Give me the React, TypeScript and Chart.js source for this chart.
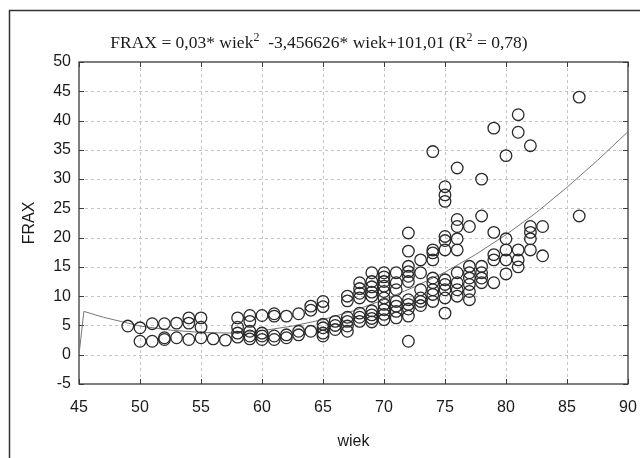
import { useEffect, useRef } from "react";
import { Chart, registerables } from "chart.js";

Chart.register(...registerables);

const X_TICKS = [45, 50, 55, 60, 65, 70, 75, 80, 85, 90];
const Y_TICKS = [-5, 0, 5, 10, 15, 20, 25, 30, 35, 40, 45, 50];

const AGES = [
  49, 50, 51, 52, 53, 54, 55, 56, 57, 58, 59, 60, 61, 62, 63, 64, 65, 66, 67,
  68, 69, 70, 71, 72, 73, 74, 75, 76, 77, 78, 79, 80, 81, 82, 83, 86,
];

const FRAX_BY_AGE: number[][] = [
  [4.9],
  [4.6, 2.3],
  [5.3, 2.3],
  [5.3, 2.9, 2.6],
  [5.4, 2.9],
  [6.3, 5.4, 2.6],
  [6.3, 4.7, 2.9],
  [2.7],
  [2.5],
  [6.3, 4.7, 3.7, 3.0],
  [6.7, 5.7, 4.0, 3.2, 2.7],
  [6.7, 3.7, 3.2, 2.6],
  [7.0, 6.6, 3.2, 2.6],
  [6.6, 3.4, 2.9],
  [7.0, 4.0, 3.4],
  [8.3, 7.6, 4.0],
  [9.1, 8.2, 5.2, 4.6, 3.7, 3.2],
  [5.7, 5.0, 4.3],
  [10.0, 9.2, 6.4, 5.7, 4.9, 4.0],
  [12.3, 11.3, 10.5, 9.7, 7.1, 6.4, 5.7],
  [14.0, 12.5, 11.6, 10.7, 10.0, 7.5, 6.8, 6.2, 5.6],
  [14.0, 13.3, 12.5, 11.7, 10.8, 9.7, 8.6, 7.7, 6.9, 6.0],
  [14.0, 12.3, 11.1, 9.1, 8.3, 7.4, 6.3],
  [20.8, 17.7, 15.1, 14.2, 13.4, 12.5, 9.4, 8.6, 7.8, 6.6, 2.3],
  [16.2, 14.0, 11.1, 9.7, 9.1, 8.4],
  [34.7, 17.9, 17.4, 16.2, 13.1, 12.3, 11.1, 10.3, 9.1],
  [28.7, 27.3, 26.2, 20.2, 19.5, 17.9, 12.8, 12.0, 11.1, 9.7, 7.1],
  [31.9, 23.1, 21.9, 19.8, 17.9, 14.0, 12.3, 11.1, 10.0],
  [21.9, 15.1, 14.0, 13.1, 12.0, 10.8, 9.4],
  [30.0, 23.7, 15.1, 14.0, 13.1, 12.3],
  [38.7, 20.9, 17.1, 16.2, 12.3],
  [34.0, 19.8, 17.9, 16.2, 13.8],
  [41.0, 38.0, 17.9, 16.2, 15.0],
  [35.7, 21.9, 20.9, 19.8, 17.9],
  [21.9, 16.9],
  [44.0, 23.7],
];

const CURVE_AGE = [
  45, 45.4, 47, 50, 52.5, 55, 57.5, 60, 62.5, 65, 67.5, 70, 72.5, 75, 77.5, 80,
  82.5, 85, 87.5, 90,
];
const CURVE_FRAX = [
  0, 7.4, 6.4, 4.9, 4.2, 3.8, 3.7, 4.1, 4.9, 6.0, 7.5, 9.4, 11.6, 14.1, 17.1,
  20.5, 24.3, 28.6, 33.2, 38.1,
];

// [text, isSuperscript]
const TITLE_PARTS: [string, boolean][] = [
  ["FRAX = 0,03* wiek", false],
  ["2", true],
  ["  -3,456626* wiek+101,01 (R", false],
  ["2", true],
  [" = 0,78)", false],
];

const X_LABEL = "wiek";
const Y_LABEL = "FRAX";

export default function App() {
  const ref = useRef<HTMLCanvasElement | null>(null);

  useEffect(() => {
    if (!ref.current) return;
    const points = AGES.flatMap((a, i) =>
      FRAX_BY_AGE[i].map((v) => ({ x: a, y: v }))
    );
    const curve = CURVE_AGE.map((a, i) => ({ x: a, y: CURVE_FRAX[i] }));

    const decor = {
      id: "decor",
      beforeDatasetsDraw(chart: any) {
        const ctx = chart.ctx as CanvasRenderingContext2D;
        const { left, right, top, bottom } = chart.chartArea;
        const xs = chart.scales.x;
        const ys = chart.scales.y;
        ctx.save();
        // dashed grid
        ctx.strokeStyle = "#c4c4c4";
        ctx.lineWidth = 1;
        ctx.setLineDash([3, 3]);
        X_TICKS.slice(1, -1).forEach((v) => {
          const px = Math.round(xs.getPixelForValue(v)) + 0.5;
          ctx.beginPath();
          ctx.moveTo(px, top);
          ctx.lineTo(px, bottom);
          ctx.stroke();
        });
        Y_TICKS.slice(1, -1).forEach((v) => {
          const py = Math.round(ys.getPixelForValue(v)) + 0.5;
          ctx.beginPath();
          ctx.moveTo(left, py);
          ctx.lineTo(right, py);
          ctx.stroke();
        });
        ctx.setLineDash([]);
        // inward ticks
        ctx.strokeStyle = "#3a3a3a";
        ctx.lineWidth = 1;
        const tl = 5;
        X_TICKS.forEach((v) => {
          const px = Math.round(xs.getPixelForValue(v)) + 0.5;
          ctx.beginPath();
          ctx.moveTo(px, bottom);
          ctx.lineTo(px, bottom - tl);
          ctx.moveTo(px, top);
          ctx.lineTo(px, top + tl);
          ctx.stroke();
        });
        Y_TICKS.forEach((v) => {
          const py = Math.round(ys.getPixelForValue(v)) + 0.5;
          ctx.beginPath();
          ctx.moveTo(left, py);
          ctx.lineTo(left + tl, py);
          ctx.moveTo(right, py);
          ctx.lineTo(right - tl, py);
          ctx.stroke();
        });
        // plot border
        ctx.strokeStyle = "#3a3a3a";
        ctx.lineWidth = 1.3;
        ctx.strokeRect(left, top, right - left, bottom - top);
        ctx.restore();
      },
      afterDraw(chart: any) {
        const ctx = chart.ctx as CanvasRenderingContext2D;
        ctx.save();
        // outer frame (left and top edges)
        ctx.strokeStyle = "#333";
        ctx.lineWidth = 1.5;
        ctx.beginPath();
        ctx.moveTo(9.5, 458);
        ctx.lineTo(9.5, 10.5);
        ctx.lineTo(640, 10.5);
        ctx.stroke();
        // title with superscripts
        const mainFont = '17.5px "Liberation Serif", "Times New Roman", serif';
        const supFont = '12px "Liberation Serif", "Times New Roman", serif';
        let total = 0;
        const widths = TITLE_PARTS.map(([t, sup]) => {
          ctx.font = sup ? supFont : mainFont;
          const w = ctx.measureText(t).width;
          total += w;
          return w;
        });
        let x = 319 - total / 2;
        const baseY = 48;
        ctx.fillStyle = "#1a1a1a";
        ctx.textBaseline = "alphabetic";
        ctx.textAlign = "left";
        TITLE_PARTS.forEach(([t, sup], i) => {
          ctx.font = sup ? supFont : mainFont;
          ctx.fillText(t, x, sup ? baseY - 7 : baseY);
          x += widths[i];
        });
        ctx.restore();
      },
    };

    const tickFont = { family: '"Liberation Sans", Arial, sans-serif', size: 16 };

    const chart = new Chart(ref.current, {
      type: "scatter",
      data: {
        datasets: [
          {
            type: "line",
            data: curve,
            borderColor: "#777",
            borderWidth: 1,
            pointRadius: 0,
            fill: false,
            tension: 0,
            order: 2,
          } as any,
          {
            data: points,
            pointStyle: "circle",
            pointRadius: 5.8,
            pointBorderWidth: 1.3,
            pointBorderColor: "#2a2a2a",
            pointBackgroundColor: "rgba(0,0,0,0)",
            borderColor: "#2a2a2a",
            backgroundColor: "rgba(0,0,0,0)",
            order: 1,
          } as any,
        ],
      },
      options: {
        animation: false,
        responsive: false,
        devicePixelRatio: 1,
        layout: { padding: { left: 0, right: 12, top: 62, bottom: 0 } },
        plugins: {
          legend: { display: false },
          tooltip: { enabled: false },
          title: { display: false },
        },
        scales: {
          x: {
            type: "linear",
            min: 45,
            max: 90,
            afterBuildTicks: (s: any) => {
              s.ticks = X_TICKS.map((v) => ({ value: v }));
            },
            afterFit: (s: any) => {
              s.height = 74;
              s.paddingLeft = 0;
              s.paddingRight = 0;
            },
            grid: { display: false, drawTicks: false },
            border: { display: false },
            ticks: {
              font: tickFont,
              color: "#1a1a1a",
              padding: 14,
              maxRotation: 0,
              autoSkip: false,
            },
            title: {
              display: true,
              text: X_LABEL,
              font: tickFont,
              color: "#1a1a1a",
              padding: { top: 0, bottom: 7 },
            },
          },
          y: {
            type: "linear",
            min: -5,
            max: 50,
            afterBuildTicks: (s: any) => {
              s.ticks = Y_TICKS.map((v) => ({ value: v }));
            },
            afterFit: (s: any) => {
              s.width = 79;
              s.paddingTop = 0;
              s.paddingBottom = 0;
            },
            grid: { display: false, drawTicks: false },
            border: { display: false },
            ticks: {
              font: tickFont,
              color: "#1a1a1a",
              padding: 8,
              autoSkip: false,
            },
            title: {
              display: true,
              text: Y_LABEL,
              font: tickFont,
              color: "#1a1a1a",
              padding: { top: 20, bottom: 0 },
            },
          },
        },
      },
      plugins: [decor],
    } as any);

    return () => chart.destroy();
  }, []);

  return (
    <div
      style={{
        position: "absolute",
        left: 0,
        top: 0,
        width: 640,
        height: 458,
        background: "#fff",
      }}
    >
      <canvas
        ref={ref}
        width={640}
        height={458}
        style={{ display: "block", width: 640, height: 458 }}
      />
    </div>
  );
}
